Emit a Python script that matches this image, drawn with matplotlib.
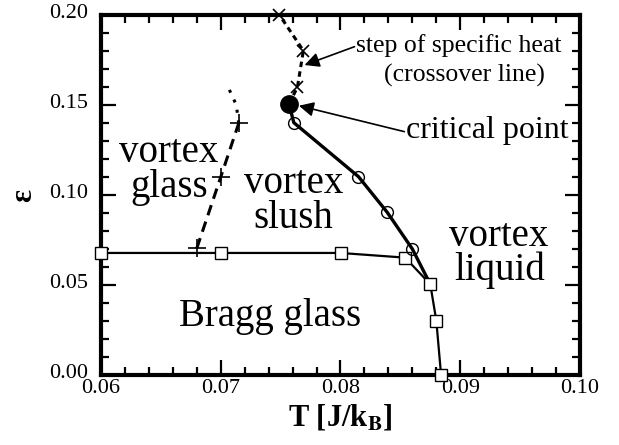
import matplotlib.pyplot as plt
from matplotlib.ticker import MultipleLocator
from matplotlib.transforms import ScaledTranslation

plt.rcParams["font.family"] = ["Liberation Serif", "DejaVu Serif"]
plt.rcParams["mathtext.fontset"] = "stix"

# Bragg glass boundary (squares)
sq_T = [0.0600, 0.0700, 0.0800, 0.0854, 0.0875, 0.0880, 0.0884]
sq_e = [0.0678, 0.0678, 0.0678, 0.0652, 0.0504, 0.0302, 0.0000]

# melting line (circles); first entry is the critical point
ci_T = [0.0757, 0.0761, 0.0815, 0.0839, 0.0860, 0.0875]
ci_e = [0.1506, 0.1402, 0.1102, 0.0904, 0.0700, 0.0504]

# crossover line (crosses)
cr_T = [0.0757, 0.0764, 0.0769, 0.0749]
cr_e = [0.1506, 0.1598, 0.1802, 0.2000]

# vortex glass line (pluses) and its dotted extension
pl_T = [0.0680, 0.0700, 0.0715]
pl_e = [0.0704, 0.1100, 0.1398]
ext_T = [0.0715, 0.0713, 0.0707]
ext_e = [0.1398, 0.1500, 0.1587]

fig = plt.figure(figsize=(6.19, 4.45), dpi=100)
ax = fig.add_axes([101 / 619, 70 / 445, 479 / 619, 360 / 445])

ax.plot(sq_T, sq_e, "k-", lw=1.6, marker="s", ms=8, mfc="white", mec="k", mew=1.0, zorder=3,
        clip_on=False)
ax.plot(ci_T, ci_e, "k-", lw=2.4, zorder=2)
ax.plot(ci_T[1:-1], ci_e[1:-1], "o", ms=8.5, mfc="none", mec="k", mew=1.0, zorder=4)
ax.plot(cr_T, cr_e, color="k", lw=2.2, ls=(0, (1.8, 1.4)), zorder=2, clip_on=False)
ax.plot(cr_T[1:], cr_e[1:], "kx", ms=8, mew=1.2, zorder=4, clip_on=False)
ax.plot(pl_T, pl_e, color="k", lw=2.2, ls=(0, (3.5, 2.2)), zorder=2)
ax.plot(ext_T, ext_e, color="k", lw=2.2, ls=(0, (1, 2.5)), zorder=2)
ax.plot(pl_T, pl_e, "k+", ms=13, mew=1.2, zorder=4)
ax.plot([ci_T[0]], [ci_e[0]], "ko", ms=12.5, zorder=5)

ax.set_xlim(0.06, 0.10)
ax.set_ylim(0.0, 0.20)
ax.xaxis.set_major_locator(MultipleLocator(0.01))
ax.xaxis.set_minor_locator(MultipleLocator(0.002))
ax.yaxis.set_major_locator(MultipleLocator(0.05))
ax.yaxis.set_minor_locator(MultipleLocator(0.01))
ax.set_xticklabels([f"{v:.2f}" for v in ax.get_xticks()])
ax.set_yticklabels([f"{v:.2f}" for v in ax.get_yticks()])
ax.tick_params(which="both", direction="in", top=True, right=True, labelsize=16, width=1.6)
ax.tick_params(which="major", length=11)
ax.tick_params(which="minor", length=6)
ax.tick_params(axis="x", which="major", pad=3)
ax.tick_params(axis="y", which="major", pad=9)
for lab in ax.get_yticklabels():
    lab.set_transform(lab.get_transform() + ScaledTranslation(0, 3 / 72, fig.dpi_scale_trans))
for s in ax.spines.values():
    s.set_linewidth(3)

ax.set_xlabel(r"T [J/k$_{\mathbf{B}}$]", fontsize=22, fontweight="bold", labelpad=3)
ax.set_ylabel("ε", fontsize=22, fontweight="bold", labelpad=8)

big = 28
ax.text(0.06567, 0.1183, "vortex", fontsize=big, ha="center", va="baseline")
ax.text(0.06567, 0.0989, "glass", fontsize=big, ha="center", va="baseline")
ax.text(0.07608, 0.1011, "vortex", fontsize=big, ha="center", va="baseline")
ax.text(0.07608, 0.0817, "slush", fontsize=big, ha="center", va="baseline")
ax.text(0.09325, 0.0718, "vortex", fontsize=big, ha="center", va="baseline")
ax.text(0.09325, 0.0528, "liquid", fontsize=big, ha="center", va="baseline")
ax.text(0.07413, 0.0274, "Bragg glass", fontsize=big, ha="center", va="baseline")

ax.text(0.08985, 0.1796, "step of specific heat", fontsize=18.5, ha="center", va="baseline")
ax.text(0.09037, 0.1629, "(crossover line)", fontsize=18.5, ha="center", va="baseline")
ax.text(0.08548, 0.1317, "critical point", fontsize=23, ha="left", va="baseline")

arrow = dict(arrowstyle="-|>", color="k", lw=1.2, mutation_scale=22, shrinkA=0, shrinkB=0)
ax.annotate("", xy=(0.0770, 0.1722), xytext=(0.08117, 0.1824), arrowprops=arrow)
ax.annotate("", xy=(0.07653, 0.1496), xytext=(0.08533, 0.1352), arrowprops=arrow)

fig.savefig("out.png", dpi=100)
